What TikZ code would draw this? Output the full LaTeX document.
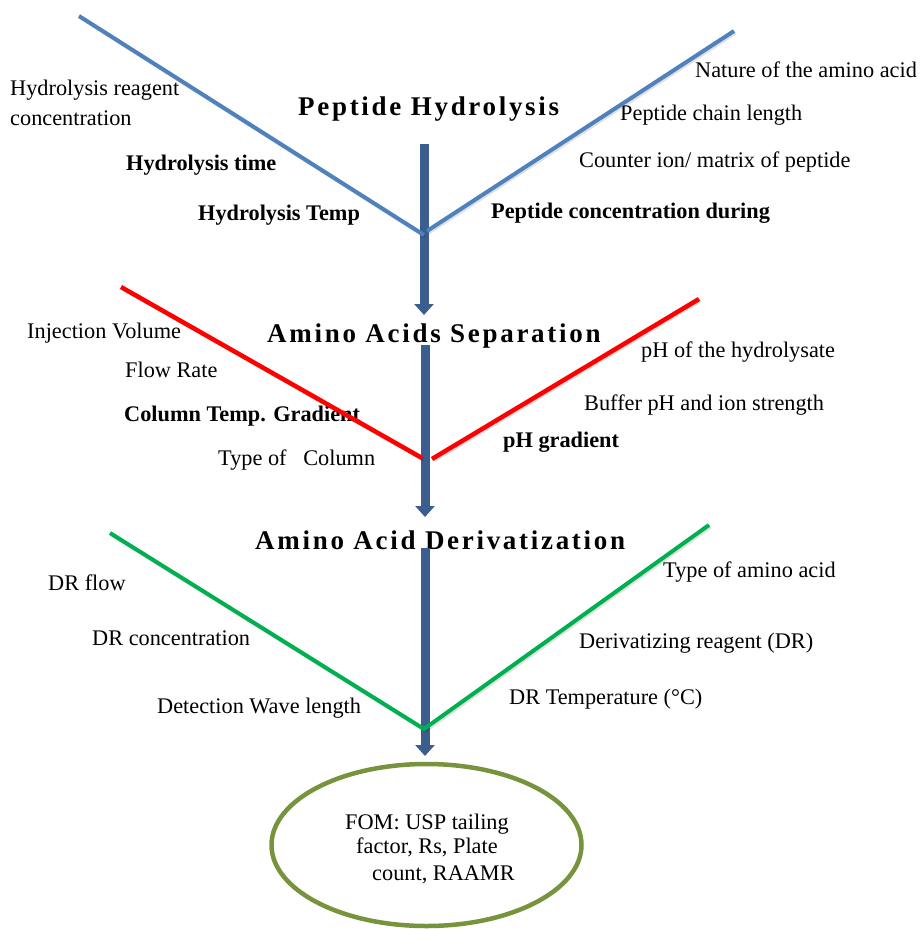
\documentclass[tikz,border=0pt]{standalone}
\usepackage{fontspec}
\setmainfont{Liberation Serif}
\usetikzlibrary{arrows.meta}
\definecolor{vblue}{HTML}{4F81BD}
\definecolor{vred}{HTML}{FF0000}
\definecolor{vgreen}{HTML}{00B050}
\definecolor{arrblue}{HTML}{3B5E8F}
\definecolor{olive}{HTML}{77933C}
\tikzset{
  lbl/.style={inner sep=0pt, anchor=base west, font=\fontsize{22.3}{25}\selectfont},
  blbl/.style={lbl, font=\fontsize{22.3}{25}\selectfont\bfseries},
  ttl/.style={inner sep=0pt, anchor=base west, font=\fontsize{27}{30}\selectfont\bfseries\addfontfeature{LetterSpace=10}},
  flow/.style={arrblue, line width=9pt, -{Triangle[width=19pt,length=11pt]}},
  vline/.style={line width=4pt},
  shadowline/.style={line width=4pt, black, opacity=0.12, transform canvas={shift={(1.5pt,-1.5pt)}}},
}
\begin{document}
\begin{tikzpicture}[x=1pt,y=-1pt]
\useasboundingbox (0,0) rectangle (920,929);
% texts
\node[ttl] (t1) at (298,115) {Peptide Hydrolysis};
\node[lbl] (a1) at (10,95) {Hydrolysis reagent};
\node[lbl] (a2) at (10,125) {concentration};
\node[blbl] (a3) at (126,170) {Hydrolysis time};
\node[blbl] (a4) at (198,220) {Hydrolysis Temp};
\node[lbl] (b1) at (695,77) {Nature of the amino acid};
\node[lbl] (b2) at (620,120) {Peptide chain length};
\node[lbl] (b3) at (579,167) {Counter ion/ matrix of peptide};
\node[blbl] (b4) at (491,218) {Peptide concentration during};

\node[ttl] (t2) at (267,342) {Amino Acids Separation};
\node[lbl] (c1) at (27,338) {Injection Volume};
\node[lbl] (c2) at (125,377) {Flow Rate};
\node[blbl] (c3) at (124,421) {Column Temp. Gradient};
\node[lbl] (c4) at (218,465) {Type of \ \ Column};
\node[lbl] (d1) at (641,357) {pH of the hydrolysate};
\node[lbl] (d2) at (584,410) {Buffer pH and ion strength};
\node[blbl] (d3) at (503,447) {pH gradient};

\node[ttl] (t3) at (255,549) {Amino Acid Derivatization};
\node[lbl] (e1) at (48,590) {DR flow};
\node[lbl] (e2) at (92,645) {DR concentration};
\node[lbl] (e3) at (157,713) {Detection Wave length};
\node[lbl] (f1) at (663,577) {Type of amino acid};
\node[lbl] (f2) at (579,648) {Derivatizing reagent (DR)};
\node[lbl] (f3) at (509,704) {DR Temperature (°C)};

% ellipse
\draw[olive, line width=4.5pt] (426.5,845) ellipse [x radius=155, y radius=81];
\node[lbl] (g1) at (345,829) {FOM: USP tailing};
\node[lbl] (g2) at (356,853) {factor, Rs, Plate};
\node[lbl] (g3) at (372,880) {count, RAAMR};

% arrows
\coordinate (s1) at (424,144); \coordinate (e1a) at (424,315);
\coordinate (s2) at (425,345); \coordinate (e2a) at (425,517);
\coordinate (s3) at (425,548); \coordinate (e3a) at (425,756);
\draw[flow] (s1) -- (e1a);
\draw[flow] (s2) -- (e2a);
\draw[flow] (s3) -- (e3a);

% V lines
\coordinate (bl) at (79,16); \coordinate (bv) at (424,235);
\coordinate (bv2) at (427,231); \coordinate (br) at (734,31);
\coordinate (rl) at (121,287); \coordinate (rv) at (422,458);
\coordinate (rv2) at (432,459); \coordinate (rr) at (699,299);
\coordinate (gl) at (110,533); \coordinate (gv) at (424,729);
\coordinate (gr) at (709,525);

\draw[shadowline] (bl) -- (bv) (bv2) -- (br);
\draw[shadowline] (rl) -- (rv) (rv2) -- (rr);
\draw[shadowline] (gl) -- (gv) -- (gr);
\draw[vline, vblue] (bl) -- (bv) (bv2) -- (br);
\draw[vline, vred, line width=4.5pt] (rl) -- (rv) (rv2) -- (rr);
\draw[vline, vgreen] (gl) -- (gv) -- (gr);
\end{tikzpicture}
\end{document}
